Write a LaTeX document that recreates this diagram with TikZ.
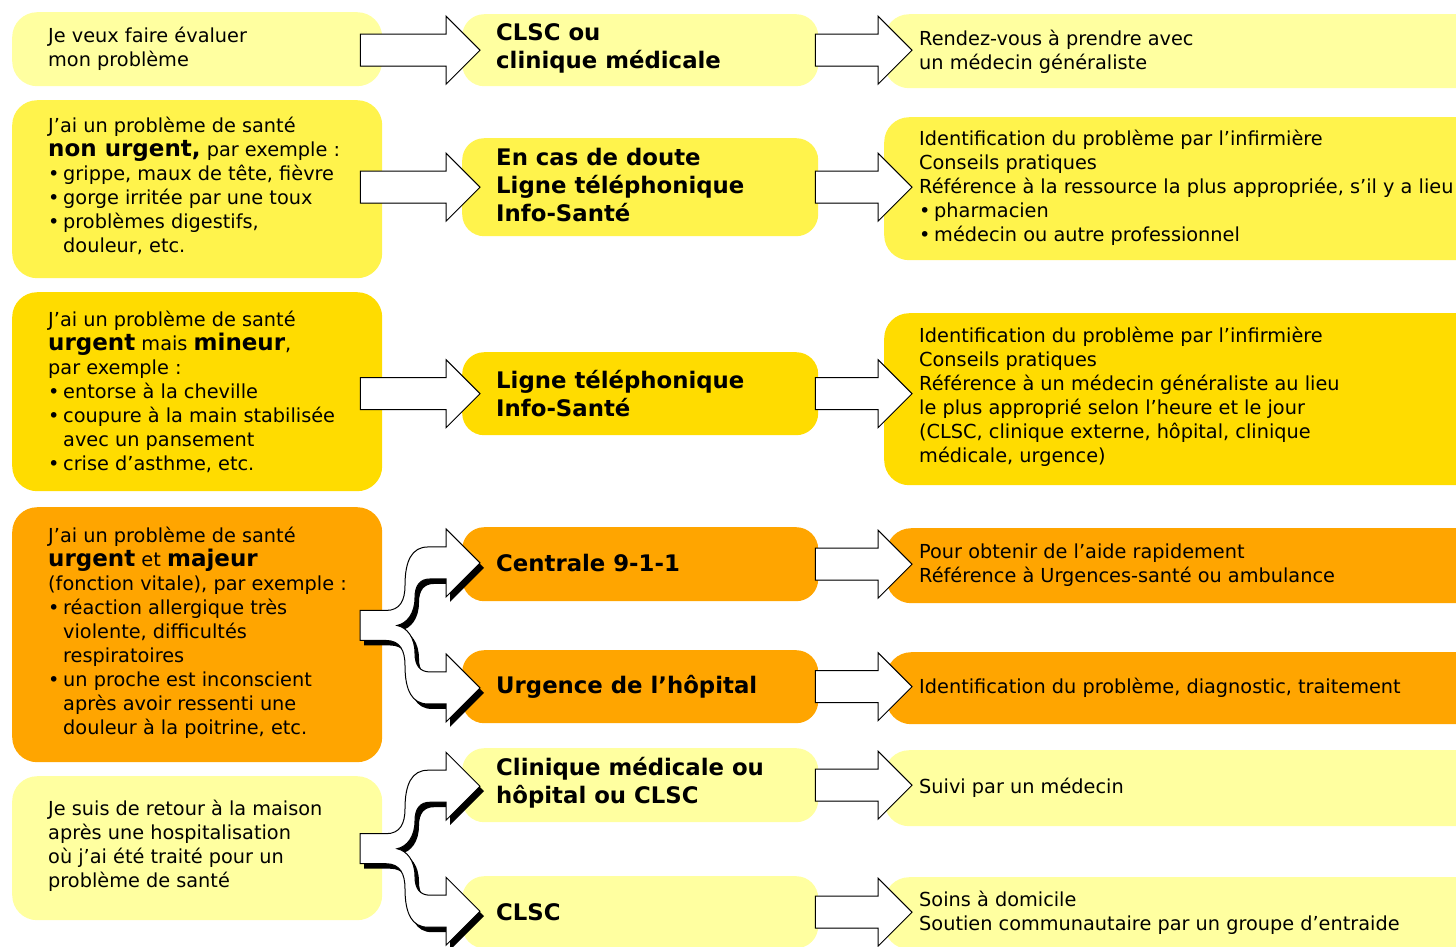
\documentclass[tikz,border=0pt]{standalone}
\usepackage{fontspec}
\setmainfont{DejaVu Sans}
\usetikzlibrary{calc}
\definecolor{lightY}{HTML}{FFFFA0}
\definecolor{brightY}{HTML}{FFF34C}
\definecolor{goldY}{HTML}{FFDC00}
\definecolor{orangeY}{HTML}{FFA500}
\newcommand\bodyfont{\fontsize{19.3}{24}\selectfont}
\newcommand\midfont{\fontsize{22.8}{28}\selectfont\bfseries}
\newcommand\bigb[1]{{\fontsize{23}{24}\selectfont\bfseries #1}}
\newcommand\bul{\makebox[15pt][l]{•}}
\newcommand\ind{\hspace*{15pt}}
\newcommand\sq{{\char"0027}}
\newcommand\barrow[5]{%
 \fill[black,xshift=4pt,yshift=-5pt] let \p1=(#1.east),\p2=(#2.west),\p3=(#3.center) in
  (\x1-#4,\y3+16pt) -- (\x2+#5-34pt,\y3+16pt) -- (\x2+#5-34pt,\y3+34pt) -- (\x2+#5,\y3)
  -- (\x2+#5-34pt,\y3-34pt) -- (\x2+#5-34pt,\y3-16pt) -- (\x1-#4,\y3-16pt) -- cycle;
 \filldraw[arrowbody] let \p1=(#1.east),\p2=(#2.west),\p3=(#3.center) in
  (\x1-#4,\y3+16pt) -- (\x2+#5-34pt,\y3+16pt) -- (\x2+#5-34pt,\y3+34pt) -- (\x2+#5,\y3)
  -- (\x2+#5-34pt,\y3-34pt) -- (\x2+#5-34pt,\y3-16pt) -- (\x1-#4,\y3-16pt) -- cycle;}
\newcommand\branch[2]{%
 \begin{scope}[shift={($(#1.west)!0.5!(#2.west)$)}]
  \fill[black,shift={(4,5)}] (-102,-15) -- (-76,-15)
   .. controls (-62,-15) and (-57,-25) .. (-57,-40)
   .. controls (-57,-65) and (-50,-78.5) .. (-34,-78.5)
   -- (-16,-78.5) -- (-16,-96.5) -- (18,-62.5) -- (-16,-28.5) -- (-16,-46.5) -- (-32,-46.5)
   .. controls (-42,-46.5) and (-47,-40) .. (-47,-28)
   .. controls (-47,-12) and (-55,-2) .. (-65,0)
   .. controls (-55,2) and (-47,12) .. (-47,28)
   .. controls (-47,40) and (-42,46.5) .. (-32,46.5)
   -- (-16,46.5) -- (-16,28.5) -- (18,62.5) -- (-16,96.5) -- (-16,78.5) -- (-34,78.5)
   .. controls (-50,78.5) and (-57,65) .. (-57,40)
   .. controls (-57,25) and (-62,15) .. (-76,15)
   -- (-102,15) -- cycle;
  \filldraw[arrowbody] (-102,-15) -- (-76,-15)
   .. controls (-62,-15) and (-57,-25) .. (-57,-40)
   .. controls (-57,-65) and (-50,-78.5) .. (-34,-78.5)
   -- (-16,-78.5) -- (-16,-96.5) -- (18,-62.5) -- (-16,-28.5) -- (-16,-46.5) -- (-32,-46.5)
   .. controls (-42,-46.5) and (-47,-40) .. (-47,-28)
   .. controls (-47,-12) and (-55,-2) .. (-65,0)
   .. controls (-55,2) and (-47,12) .. (-47,28)
   .. controls (-47,40) and (-42,46.5) .. (-32,46.5)
   -- (-16,46.5) -- (-16,28.5) -- (18,62.5) -- (-16,96.5) -- (-16,78.5) -- (-34,78.5)
   .. controls (-50,78.5) and (-57,65) .. (-57,40)
   .. controls (-57,25) and (-62,15) .. (-76,15)
   -- (-102,15) -- cycle;
 \end{scope}}
\begin{document}
\begin{tikzpicture}[x=1pt,y=-1pt,
  arrowbody/.style={fill=white,draw=black,line width=1pt,line join=miter},
  lbox/.style={rectangle,draw=none,inner sep=0pt,anchor=north west,rounded corners=25pt,minimum width=370pt},
  mbox/.style={rectangle,draw=none,inner sep=0pt,anchor=north west,rounded corners=22pt,minimum width=356pt},
  rbox/.style={rectangle,draw=none,inner sep=0pt,anchor=north west,rounded corners=25pt,minimum width=640pt},
  txt/.style={anchor=west,align=left,inner sep=0pt,font=\bodyfont},
  mtxt/.style={anchor=west,align=left,inner sep=0pt,font=\midfont}]
\useasboundingbox (0,0) rectangle (1456,946);
\clip (0,0) rectangle (1456,946);
% left column
\node[lbox,fill=lightY,minimum height=74pt] (l1) at (12,12) {};
\node[lbox,fill=brightY,minimum height=178pt] (l2) at (12,100) {};
\node[lbox,fill=goldY,minimum height=199pt] (l3) at (12,292) {};
\node[lbox,fill=orangeY,minimum height=255pt] (l4) at (12,507) {};
\node[lbox,fill=lightY,minimum height=144pt] (l5) at (12,776) {};
% middle column
\node[mbox,fill=lightY,minimum height=72pt] (m1) at (462,14) {};
\node[mbox,fill=brightY,minimum height=98pt] (m2) at (462,138) {};
\node[mbox,fill=goldY,minimum height=83pt] (m3) at (462,352) {};
\node[mbox,fill=orangeY,minimum height=74pt] (m4a) at (462,527) {};
\node[mbox,fill=orangeY,minimum height=73pt] (m4b) at (462,650) {};
\node[mbox,fill=lightY,minimum height=74pt] (m5a) at (462,748) {};
\node[mbox,fill=lightY,minimum height=72pt] (m5b) at (462,876) {};
% right column
\node[rbox,fill=lightY,minimum height=74pt] (r1) at (884,14) {};
\node[rbox,fill=brightY,minimum height=143pt] (r2) at (884,117) {};
\node[rbox,fill=goldY,minimum height=172pt] (r3) at (884,313) {};
\node[rbox,fill=orangeY,minimum height=75pt] (r4a) at (886,528) {};
\node[rbox,fill=orangeY,minimum height=72pt] (r4b) at (886,652) {};
\node[rbox,fill=lightY,minimum height=76pt] (r5a) at (884,750) {};
\node[rbox,fill=lightY,minimum height=72pt] (r5b) at (884,877) {};
% left texts
\node[txt] (tl1) at ($(l1.west)+(36,0)$) {Je veux faire évaluer\\mon problème};
\node[txt] (tl2) at ($(l2.west)+(36,-3)$) {J’ai un problème de santé\\
\bigb{non urgent,} par exemple :\\
\bul grippe, maux de tête, fièvre\\
\bul gorge irritée par une toux\\
\bul problèmes digestifs,\\
\ind douleur, etc.};
\node[txt] (tl3) at ($(l3.west)+(36,0)$) {J’ai un problème de santé\\
\bigb{urgent} mais \bigb{mineur},\\
par exemple :\\
\bul entorse à la cheville\\
\bul coupure à la main stabilisée\\
\ind avec un pansement\\
\bul crise d’asthme, etc.};
\node[txt] (tl4) at ($(l4.west)+(36,-2)$) {J’ai un problème de santé\\
\bigb{urgent} et \bigb{majeur}\\
(fonction vitale), par exemple :\\
\bul réaction allergique très\\
\ind violente, difficultés\\
\ind respiratoires\\
\bul un proche est inconscient\\
\ind après avoir ressenti une\\
\ind douleur à la poitrine, etc.};
\node[txt] (tl5) at ($(l5.west)+(36,-2)$) {Je suis de retour à la maison\\
après une hospitalisation\\
où j’ai été traité pour un\\
problème de santé};
% middle texts
\node[mtxt] (tm1) at ($(m1.west)+(34,-2)$) {CLSC ou\\clinique médicale};
\node[mtxt] (tm2) at ($(m2.west)+(34,-2)$) {En cas de doute\\Ligne téléphonique\\Info-Santé};
\node[mtxt] (tm3) at ($(m3.west)+(34,0)$) {Ligne téléphonique\\Info-Santé};
\node[mtxt] (tm4a) at ($(m4a.west)+(34,-1)$) {Centrale 9-1-1};
\node[mtxt] (tm4b) at ($(m4b.west)+(34,0)$) {Urgence de l’hôpital};
\node[mtxt] (tm5a) at ($(m5a.west)+(34,-2)$) {Clinique médicale ou\\hôpital ou CLSC};
\node[mtxt] (tm5b) at ($(m5b.west)+(34,0)$) {CLSC};
% right texts
\node[txt] (tr1) at ($(r1.west)+(35,1)$) {Rendez-vous à prendre avec\\un médecin généraliste};
\node[txt] (tr2) at ($(r2.west)+(35,-1)$) {Identification du problème par l\sq infirmière\\
Conseils pratiques\\
Référence à la ressource la plus appropriée, s’il y a lieu\\
\bul pharmacien\\
\bul médecin ou autre professionnel};
\node[txt] (tr3) at ($(r3.west)+(35,-2)$) {Identification du problème par l’infirmière\\
Conseils pratiques\\
Référence à un médecin généraliste au lieu\\
le plus approprié selon l’heure et le jour\\
(CLSC, clinique externe, hôpital, clinique\\
médicale, urgence)};
\node[txt] (tr4a) at ($(r4a.west)+(33,-1)$) {Pour obtenir de l’aide rapidement\\Référence à Urgences-santé ou ambulance};
\node[txt] (tr4b) at ($(r4b.west)+(33,0)$) {Identification du problème, diagnostic, traitement};
\node[txt] (tr5a) at ($(r5a.west)+(35,0)$) {Suivi par un médecin};
\node[txt] (tr5b) at ($(r5b.west)+(35,0)$) {Soins à domicile\\Soutien communautaire par un groupe d’entraide};
% arrows left -> middle
\barrow{l1}{m1}{m1}{22pt}{18pt}
\barrow{l2}{m2}{m2}{22pt}{18pt}
\barrow{l3}{m3}{m3}{22pt}{18pt}
\branch{m4a}{m4b}
\branch{m5a}{m5b}
% arrows middle -> right
\barrow{m1}{r1}{m1}{3pt}{28pt}
\barrow{m2}{r2}{m2}{3pt}{28pt}
\barrow{m3}{r3}{m3}{3pt}{28pt}
\barrow{m4a}{r4a}{m4a}{3pt}{26pt}
\barrow{m4b}{r4b}{m4b}{3pt}{26pt}
\barrow{m5a}{r5a}{m5a}{3pt}{28pt}
\barrow{m5b}{r5b}{m5b}{3pt}{28pt}
\end{tikzpicture}
\end{document}
